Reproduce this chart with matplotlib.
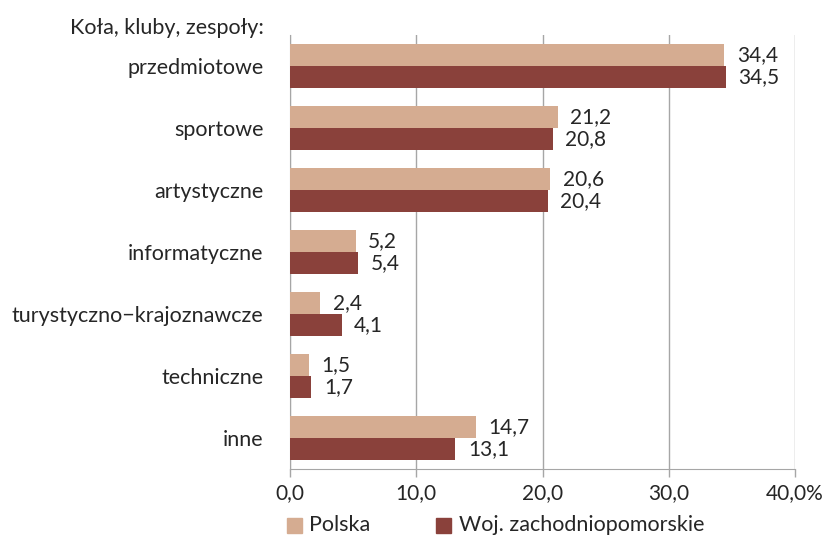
import numpy as np
import matplotlib.pyplot as plt
from matplotlib.patches import Rectangle

#data
categories = ["przedmiotowe", "sportowe", "artystyczne", "informatyczne",
              "turystyczno\u2212krajoznawcze", "techniczne", "inne"]
polska = [34.4, 21.2, 20.6, 5.2, 2.4, 1.5, 14.7]
woj = [34.5, 20.8, 20.4, 5.4, 4.1, 1.7, 13.1]
series_names = ["Polska", "Woj. zachodniopomorskie"]
xticks = [0, 10, 20, 30, 40]
xtick_labels = ["0,0", "10,0", "20,0", "30,0", "40,0%"]

c_pl = "#D5AC91"
c_woj = "#8A413B"
txt = "#262626"
grid_c = "#A6A6A6"
fs_num = 15
fs_txt = 15.5

plt.rcParams['font.family'] = ['Lato', 'DejaVu Sans']

fig = plt.figure(figsize=(8.37, 5.36), dpi=100)
ax = fig.add_axes([290/837, 1-469/536, (795-290)/837, (469-35)/536])

n = len(categories)
y = np.arange(n)
h = 0.355
ax.barh(y - h/2, polska, height=h, color=c_pl, zorder=3)
ax.barh(y + h/2, woj, height=h, color=c_woj, zorder=3)

for i in range(n):
    ax.annotate(f"{polska[i]:.1f}".replace(".", ","), (polska[i], y[i] - h/2),
                xytext=(9, 0), textcoords="offset points", va="center", ha="left",
                fontsize=fs_num, color=txt)
    ax.annotate(f"{woj[i]:.1f}".replace(".", ","), (woj[i], y[i] + h/2),
                xytext=(9, 0), textcoords="offset points", va="center", ha="left",
                fontsize=fs_num, color=txt)

ax.set_ylim(n - 0.5, -0.5)
ax.set_xlim(0, 40)
ax.set_xticks(xticks)
ax.set_xticklabels(xtick_labels, fontsize=fs_num, color=txt)
ax.set_yticks(y)
ax.set_yticklabels(categories, fontsize=fs_txt, color=txt)
ax.tick_params(axis="y", length=0, pad=19)
ax.tick_params(axis="x", length=5.5, color=grid_c, width=1, pad=5)
ax.xaxis.grid(True, color=grid_c, linewidth=1, zorder=0)
for s in ["top", "right"]:
    ax.spines[s].set_visible(False)
ax.spines["left"].set_color(grid_c)
ax.spines["bottom"].set_color(grid_c)

fig.text(264/837, 1-28/536, "Koła, kluby, zespoły:", ha="right", va="center",
         fontsize=fs_txt, color=txt)

# legend
for x0, col, name, tx in [(287, c_pl, series_names[0], 309), (436, c_woj, series_names[1], 459)]:
    fig.patches.append(Rectangle((x0/837, 1-533/536), 15/837, 15/536,
                                 transform=fig.transFigure, color=col))
    fig.text(tx/837, 1-525/536, name, ha="left", va="center", fontsize=fs_txt, color=txt)

plt.savefig("out.png", dpi=100)
